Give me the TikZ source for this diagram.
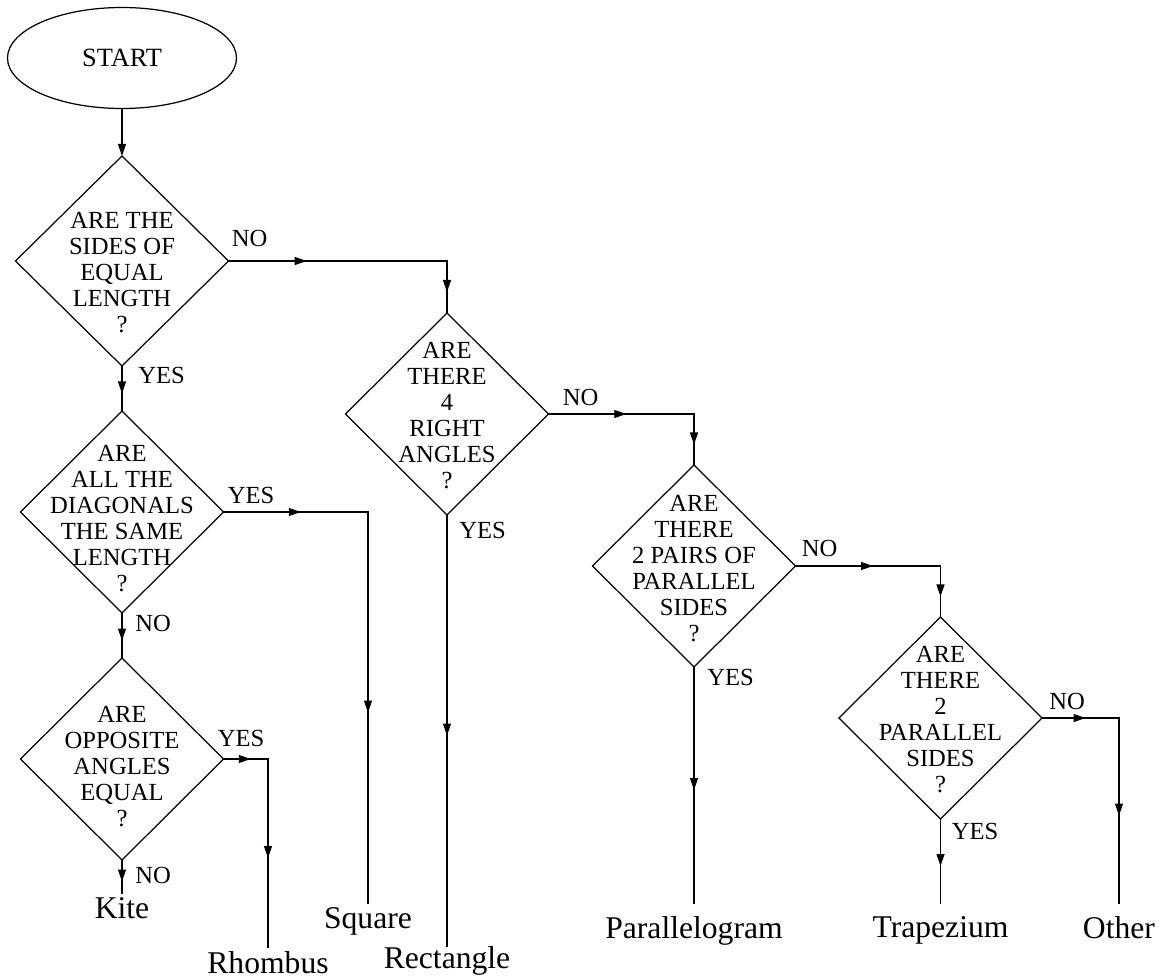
\documentclass[tikz,border=0pt]{standalone}
\usepackage{fontspec}
\setmainfont{Liberation Serif}
\usetikzlibrary{shapes.geometric,arrows.meta,decorations.markings,positioning}

\tikzset{
  decision/.style={draw, diamond, line width=0.7pt, inner sep=0pt, outer sep=0pt,
    minimum width=40.6mm, minimum height=40.4mm},
  question/.style={align=center, inner sep=0pt, font=\fontsize{14}{14.8}\selectfont},
  answer/.style={anchor=north, inner xsep=0pt, font=\fontsize{18}{20}\selectfont},
  branch/.style={inner sep=0pt, font=\fontsize{14}{16}\selectfont},
  flow/.style={line width=0.7pt, line cap=rect},
  midarrow/.style={flow, postaction={decorate}, decoration={markings,
    mark=at position #1 with {\pgftransformxshift{1mm}\arrow{Triangle[length=2.4mm,width=1.6mm]}}}},
  midarrow/.default=0.5
}

\begin{document}
\begin{tikzpicture}[x=0.2mm, y=-0.2mm]
\useasboundingbox (0,0) rectangle (1170,980);

\node[draw, ellipse, line width=0.7pt, inner sep=0pt, outer sep=0pt,
  minimum width=45.8mm, minimum height=20.2mm, font=\fontsize{15}{17}\selectfont] (start) at (122,58) {START};

% left column
\node[decision, minimum width=42.6mm, minimum height=42mm] (sides) at (122,261) {};
\node[question, yshift=-2.4mm] at (sides) {ARE THE\\SIDES OF\\EQUAL\\LENGTH\\?};
\node[decision] (diags) at (122,512) {};
\node[question, yshift=-1.3mm] at (diags) {ARE\\ALL THE\\DIAGONALS\\THE SAME\\LENGTH\\?};
\node[decision] (opp) at (122,759) {};
\node[question, yshift=-1.6mm] at (opp) {ARE\\OPPOSITE\\ANGLES\\EQUAL\\?};

% right staircase
\node[decision] (right) at (447,414) {};
\node[question, yshift=-0.4mm] at (right) {ARE\\THERE\\4\\RIGHT\\ANGLES\\?};
\node[decision] (pairs) at (694,566) {};
\node[question, yshift=-0.5mm] at (pairs) {ARE\\THERE\\2 PAIRS OF\\PARALLEL\\SIDES\\?};
\node[decision] (para) at (940.5,718) {};
\node[question, yshift=-0.4mm] at (para) {ARE\\THERE\\2\\PARALLEL\\SIDES\\?};

% results
\node[answer, inner ysep=2.5pt] (kite) at (122,893) {Kite};
\node[answer, inner ysep=2.5pt] (rhombus) at (268,947) {Rhombus};
\node[answer, inner ysep=2.5pt] (square) at (368,903) {Square};
\node[answer, inner ysep=0pt] (rectangle) at (447,946) {Rectangle};
\node[answer, inner ysep=7.5pt] (parallelogram) at (694,903) {Parallelogram};
\node[answer, inner ysep=7.5pt] (trapezium) at (940.5,903) {Trapezium};
\node[answer, inner ysep=7.5pt] (other) at (1119,903) {Other};

% connectors
\draw[flow, -{Triangle[length=2.4mm,width=1.6mm]}] (start.south) -- (sides.north);
\coordinate (c1) at (sides.east -| right.north);
\draw[midarrow=0.335] (sides.east) -- (c1);
\draw[midarrow] (c1) -- (right.north);
\draw[midarrow] (sides.south) -- (diags.north);
\coordinate (c2) at (diags.east -| square.north);
\draw[midarrow] (diags.east) -- (c2);
\draw[midarrow] (c2) -- (square.north);
\draw[midarrow] (diags.south) -- (opp.north);
\coordinate (c3) at (opp.east -| rhombus.north);
\draw[midarrow] (opp.east) -- (c3);
\draw[midarrow] (c3) -- (rhombus.north);
\draw[midarrow] (opp.south) -- (kite.north);
\coordinate (c4) at (right.east -| pairs.north);
\draw[midarrow] (right.east) -- (c4);
\draw[midarrow] (c4) -- (pairs.north);
\draw[midarrow] (right.south) -- (rectangle.north);
\coordinate (c5) at (pairs.east -| para.north);
\draw[midarrow] (pairs.east) -- (c5);
\draw[midarrow] (c5) -- (para.north);
\draw[midarrow] (pairs.south) -- (parallelogram.north);
\coordinate (c6) at (para.east -| other.north);
\draw[midarrow] (para.east) -- (c6);
\draw[midarrow] (c6) -- (other.north);
\draw[midarrow] (para.south) -- (trapezium.north);

% yes / no
\node[branch, above right=2.8mm and 0.6mm of sides.east] (sidesno) {NO};
\node[branch, below right=0.2mm and 3.2mm of sides.south] (sidesyes) {YES};
\node[branch, above right=1.6mm and 0.8mm of diags.east] (diagsyes) {YES};
\node[branch, below right=0.4mm and 2.6mm of diags.south] (diagsno) {NO};
\node[branch, above right=2.4mm and -1.2mm of opp.east] (oppyes) {YES};
\node[branch, below right=1.4mm and 2.6mm of opp.south] (oppno) {NO};
\node[branch, above right=1.6mm and 2.8mm of right.east] (rightno) {NO};
\node[branch, below right=1.4mm and 2.4mm of right.south] (rightyes) {YES};
\node[branch, above right=1.8mm and 1.2mm of pairs.east] (pairsno) {NO};
\node[branch, below right=0.4mm and 2.6mm of pairs.south] (pairsyes) {YES};
\node[branch, above right=1.6mm and 1.4mm of para.east] (parano) {NO};
\node[branch, below right=0.8mm and 2.2mm of para.south] (parayes) {YES};
\end{tikzpicture}
\end{document}
